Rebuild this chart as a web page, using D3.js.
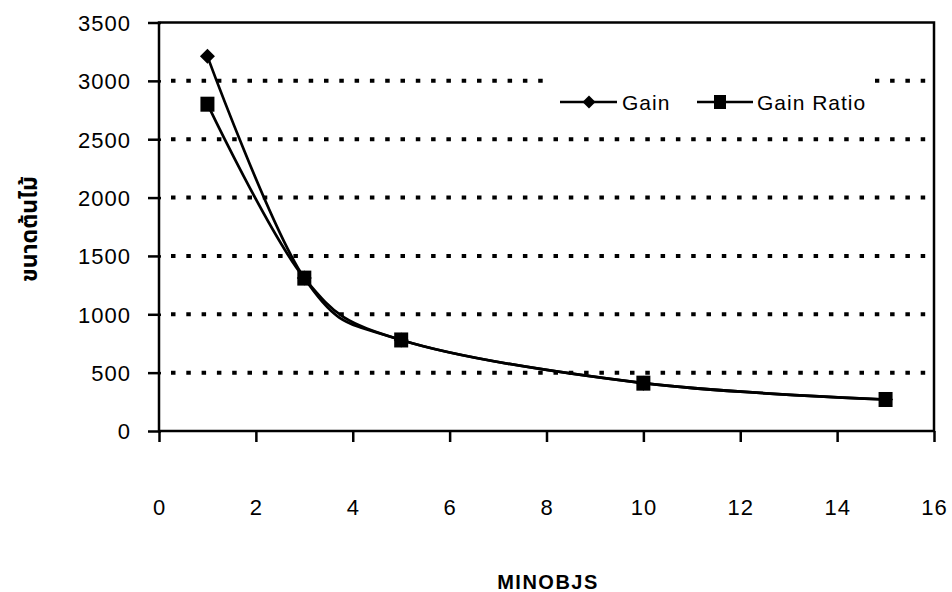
<!DOCTYPE html>
<html>
<head>
<meta charset="utf-8">
<script src="https://cdn.jsdelivr.net/npm/d3@7"></script>
<style>
  html, body { margin: 0; padding: 0; background: #fff; }
  svg text { font-family: "Liberation Sans", Arial, sans-serif; fill: #000; }
</style>
</head>
<body>
<svg id="chart" width="952" height="592"></svg>
<script>
// ---- data ----
const minobjs = [1, 3, 5, 10, 15];
const gain = [3210, 1310, 780, 410, 270];
const gainRatio = [2800, 1310, 780, 410, 270];
const seriesNames = ["Gain", "Gain Ratio"];
const xTicks = [0, 2, 4, 6, 8, 10, 12, 14, 16];
const yTicks = [0, 500, 1000, 1500, 2000, 2500, 3000, 3500];
const xTitle = "MINOBJS";
const yTitle = "ขนาดต้นไม้";

// ---- layout ----
const svg = d3.select("#chart");
const L = 159, R = 934, T = 22.5, B = 431;
const x = d3.scaleLinear().domain([0, 16]).range([L, R]);
const y = d3.scaleLinear().domain([0, 3500]).range([B, T]);

// gridlines (dotted)
svg.append("g").selectAll("line")
  .data(yTicks.filter(v => v > 0 && v < 3500))
  .join("line")
  .attr("x1", L + 12).attr("x2", R - 2)
  .attr("y1", d => y(d)).attr("y2", d => y(d))
  .attr("stroke", "#000").attr("stroke-width", 4)
  .attr("stroke-dasharray", "4.5 10.8");

// frame
svg.append("rect").attr("x", L).attr("y", T).attr("width", R - L).attr("height", B - T)
  .attr("fill", "none").attr("stroke", "#000").attr("stroke-width", 2.5);

// y axis
const yAxis = d3.axisLeft(y).tickValues(yTicks).tickSize(11).tickPadding(17).tickFormat(d3.format("d"));
const gy = svg.append("g").attr("transform", `translate(${L},0)`).call(yAxis);
gy.select(".domain").remove();
gy.selectAll(".tick line").attr("stroke", "#000").attr("stroke-width", 2.5).attr("x2", -11).attr("x1", 2);
gy.selectAll(".tick text").attr("font-size", 22).attr("letter-spacing", 1)
  .attr("font-family", "Liberation Sans, Arial, sans-serif").attr("dy", "0.36em");

// x axis
const xAxis = d3.axisBottom(x).tickValues(xTicks).tickSize(11).tickPadding(57).tickFormat(d3.format("d"));
const gx = svg.append("g").attr("transform", `translate(0,${B})`).call(xAxis);
gx.select(".domain").remove();
gx.selectAll(".tick line").attr("stroke", "#000").attr("stroke-width", 2.5);
gx.selectAll(".tick text").attr("font-size", 22).attr("letter-spacing", 1)
  .attr("font-family", "Liberation Sans, Arial, sans-serif");

// axis titles
svg.append("text").attr("x", 548).attr("y", 589).attr("text-anchor", "middle")
  .attr("font-size", 20).attr("letter-spacing", 1.5).attr("font-weight", "bold").text(xTitle);
svg.append("text").attr("transform", "translate(37,229) rotate(-90)").attr("text-anchor", "middle")
  .style("font-family", "'Noto Sans Thai', 'Loma', 'Garuda', 'Tlwg Typo', 'DejaVu Sans', sans-serif")
  .attr("font-size", 23).attr("font-weight", "bold").text(yTitle);

// lines
const line = d3.line().x(d => x(d[0])).y(d => y(d[1])).curve(d3.curveCatmullRom.alpha(0));
const gainPts = minobjs.map((m, i) => [m, gain[i]]);
const ratioPts = minobjs.map((m, i) => [m, gainRatio[i]]);

svg.append("path").datum(gainPts).attr("d", line).attr("fill", "none").attr("stroke", "#000").attr("stroke-width", 2.7);
svg.append("path").datum(ratioPts).attr("d", line).attr("fill", "none").attr("stroke", "#000").attr("stroke-width", 2.7);

// markers
const diamond = s => `M0,${-s}L${s},0L0,${s}L${-s},0Z`;
svg.append("g").selectAll("path").data(gainPts).join("path")
  .attr("transform", d => `translate(${x(d[0])},${y(d[1])})`)
  .attr("d", diamond(7.5)).attr("fill", "#000");
svg.append("g").selectAll("rect").data(ratioPts).join("rect")
  .attr("x", d => x(d[0]) - 7).attr("y", d => y(d[1]) - 7.5)
  .attr("width", 14).attr("height", 15).attr("fill", "#000");

// legend
const lg = svg.append("g");
lg.append("rect").attr("x", 549).attr("y", 72).attr("width", 326).attr("height", 54).attr("fill", "#fff");
const ly = 102;
// Gain
lg.append("line").attr("x1", 560).attr("x2", 617).attr("y1", ly).attr("y2", ly).attr("stroke", "#000").attr("stroke-width", 2.7);
lg.append("path").attr("transform", `translate(589,${ly})`).attr("d", diamond(6.5)).attr("fill", "#000");
lg.append("text").attr("x", 622).attr("y", ly).attr("dy", "0.36em").attr("font-size", 21).attr("letter-spacing", 1).text(seriesNames[0]);
// Gain Ratio
lg.append("line").attr("x1", 697).attr("x2", 753).attr("y1", ly).attr("y2", ly).attr("stroke", "#000").attr("stroke-width", 2.7);
lg.append("rect").attr("x", 720 - 6).attr("y", ly - 7).attr("width", 12).attr("height", 14).attr("fill", "#000");
lg.append("text").attr("x", 757).attr("y", ly).attr("dy", "0.36em").attr("font-size", 21).attr("letter-spacing", 1).text(seriesNames[1]);
</script>
</body>
</html>
